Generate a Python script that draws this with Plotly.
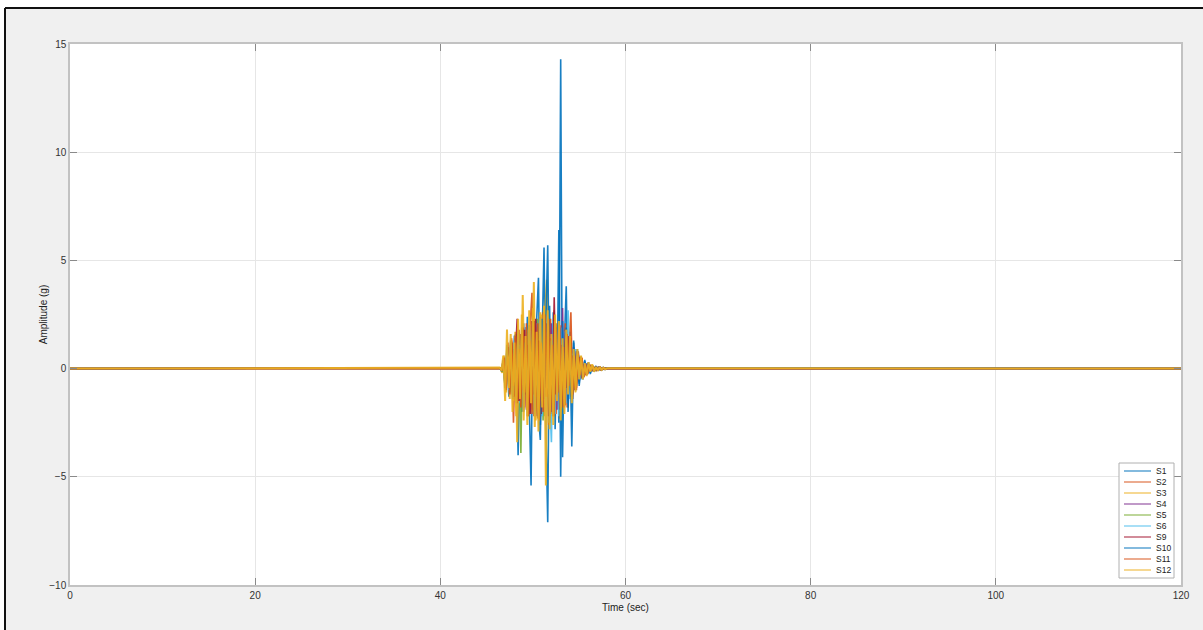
import plotly.graph_objects as go

# ---------------- data ----------------
t_start = 0.0
t_end = 120.0
# two interleaved sampling grids (seconds) for the strong-motion window
t_burst_a = [46.4, 46.6, 46.8, 47.0, 47.2, 47.4, 47.6, 47.8, 48.0, 48.2,
             48.4, 48.6, 48.8, 49.0, 49.2, 49.4, 49.6, 49.8, 50.0, 50.2,
             50.4, 50.6, 50.8, 51.0, 51.2, 51.4, 51.6, 51.8, 52.0, 52.2,
             52.4, 52.6, 52.8, 53.0, 53.2, 53.4, 53.6, 53.8, 54.0, 54.2,
             54.4, 54.6, 54.8, 55.0, 55.2, 55.4, 55.6, 55.8, 56.0, 56.2,
             56.4, 56.6, 56.8, 57.0, 57.2, 57.4, 57.6, 57.8, 58.0]
t_burst_b = [46.5, 46.7, 46.9, 47.1, 47.3, 47.5, 47.7, 47.9, 48.1, 48.3,
             48.5, 48.7, 48.9, 49.1, 49.3, 49.5, 49.7, 49.9, 50.1, 50.3,
             50.5, 50.7, 50.9, 51.1, 51.3, 51.5, 51.7, 51.9, 52.1, 52.3,
             52.5, 52.7, 52.9, 53.1, 53.3, 53.5, 53.7, 53.9, 54.1, 54.3,
             54.5, 54.7, 54.9, 55.1, 55.3, 55.5, 55.7, 55.9, 56.1, 56.3,
             56.5, 56.7, 56.9, 57.1, 57.3, 57.5, 57.7, 57.9, 58.1]

series_names = ["S1", "S2", "S3", "S4", "S5", "S6", "S9", "S10", "S11", "S12"]

S1 = [0.04, -0.08, 0.3, -0.9, 0.6, -1.3, 1.2, -0.7, 1.5, 1.6,
      -4.0, 0.9, -2.0, 2.1, -1.2, 2.4, -1.9, -5.4, 2.6, -1.3,
      2.2, 4.2, -2.6, 1.5, 5.6, -2.7, -7.1, 2.9, -1.4, 2.6,
      -2.8, 1.7, -2.5, 14.3, -4.1, 1.2, 3.8, -2.0, 1.7, -0.9,
      1.2, -1.0, 0.5, -0.7, 0.55, -0.3, 0.35, -0.3, 0.15, -0.2,
      0.16, -0.1, 0.1, -0.08, 0.06, -0.05, 0.04, -0.03, 0.02]
S2 = [0.03, -0.1, 0.5, -1.0, 1.2, -0.6, 1.4, -2.5, 0.8, -1.5,
      1.8, -1.0, 2.0, -1.8, 1.2, -2.1, 2.0, 3.5, -2.2, 1.4,
      -2.3, 2.1, -1.3, 2.6, -2.2, 1.5, -2.6, 2.3, -1.2, 2.7,
      -2.1, 1.3, -2.3, 2.0, -1.1, 2.1, -1.8, 0.9, 2.6, -1.4,
      0.7, -1.0, 0.8, -0.4, 0.5, -0.4, 0.2, -0.25, 0.2, -0.1,
      0.12, -0.1, 0.08, -0.06, 0.05, -0.04, 0.03, -0.02, 0.01]
S3 = [0.02, -0.2, 0.6, -1.1, 1.0, -1.4, 0.7, -1.5, 1.7, -3.4,
      1.1, -1.7, 3.4, -1.1, 1.8, -2.2, 1.3, -2.0, 4.0, -2.4,
      1.4, -2.1, 2.5, -1.3, 2.4, 4.1, -2.5, 1.3, -2.2, 2.0,
      -1.4, 2.1, -2.0, 1.1, -1.8, 1.7, -0.9, 1.4, -1.2, 0.6,
      -0.9, 0.7, -0.4, 0.5, -0.4, 0.2, -0.25, 0.2, -0.1, 0.12,
      -0.1, 0.08, -0.06, 0.05, -0.04, 0.03, -0.02, 0.02, -0.01]
S4 = [0.02, -0.1, 0.4, -0.8, 0.9, -0.5, 1.1, -1.2, 0.7, -1.4,
      1.5, -1.3, 0.9, -1.6, 1.9, -1.0, 2.0, -1.9, 1.2, -2.2,
      2.0, -1.3, 2.4, -2.1, 1.3, -2.0, 2.3, -1.4, 2.1, -2.2,
      1.2, -1.9, 2.2, -1.1, 2.8, -1.8, 1.0, -1.5, 1.3, -0.7,
      1.0, -0.9, 0.4, -0.6, 0.5, -0.25, 0.3, -0.25, 0.12, -0.15,
      0.12, -0.06, 0.08, -0.06, 0.05, -0.04, 0.03, -0.02, 0.01]
S5 = [0.02, -0.15, 0.4, -0.9, 0.6, -1.1, 1.2, -0.8, 1.4, -1.5,
      0.9, -3.9, 1.8, -1.0, 1.9, -2.0, 1.2, -1.9, 2.2, -1.2,
      2.3, -2.2, 1.3, -2.4, 2.2, -1.3, 2.0, -2.1, 1.2, -2.0,
      1.9, -1.2, 1.8, -1.9, 1.0, -1.6, 1.5, -0.8, 1.2, -1.1,
      0.5, -0.8, 0.6, -0.3, 0.4, -0.35, 0.2, -0.25, 0.2, -0.1,
      0.12, -0.1, 0.05, -0.06, 0.05, -0.04, 0.03, -0.02, 0.01]
S6 = [0.03, -0.1, 0.3, -0.7, 0.9, -1.0, 0.6, -1.2, 1.3, -0.8,
      1.5, -1.6, 1.0, -1.8, 1.9, -1.1, 1.8, -2.1, 1.2, -2.2,
      2.1, -1.2, 2.3, -2.2, 1.3, -2.4, 2.1, -1.3, -3.4, 2.2,
      -2.1, 1.2, -2.2, 1.9, -1.0, 1.7, -1.6, 2.7, -1.4, 0.7,
      -1.0, 0.9, -0.4, 0.6, -0.5, 0.25, -0.3, 0.25, -0.12, 0.15,
      -0.12, 0.06, -0.08, 0.06, -0.05, 0.04, -0.03, 0.02, -0.01]
S9 = [0.02, -0.1, 0.5, -0.9, 1.0, -0.6, 1.2, -1.3, 0.8, 2.3,
      -1.5, 1.6, -1.0, 1.8, -1.9, 1.1, -2.1, 2.2, -1.2, 2.3,
      -2.2, 1.3, -2.1, 2.2, -1.3, 2.1, -2.2, 1.4, -2.0, 3.3,
      -1.2, 2.0, -1.9, 1.1, -1.8, 1.7, -0.9, 1.5, -1.3, 0.6,
      -1.0, 0.8, -0.4, 0.55, -0.45, 0.2, -0.3, 0.25, -0.1, 0.15,
      -0.12, 0.06, -0.08, 0.06, -0.05, 0.04, -0.03, 0.02, -0.01]
S10 = [0.03, -0.1, 0.4, -0.9, 1.1, -0.7, 1.3, -1.4, 0.9, -1.6,
       1.7, -1.1, 1.9, -2.0, 1.2, -2.2, 2.0, -1.3, 2.2, -2.1,
       1.4, -2.2, -3.3, 2.3, -1.4, 2.2, 5.7, -2.5, 1.3, -2.2,
       2.1, -1.3, 6.4, -5.0, 2.2, -1.1, 1.9, -1.8, 1.0, -3.6,
       1.3, -0.6, 0.9, -0.8, 0.35, -0.5, 0.4, -0.2, 0.3, -0.25,
       0.12, -0.15, 0.12, -0.1, 0.08, -0.06, 0.05, -0.04, 0.03]
S11 = [0.02, -0.1, 0.5, -1.0, 0.6, -1.2, 1.3, -0.8, 1.5, -1.6,
       0.9, -1.8, 1.9, -1.1, 2.1, -2.2, 1.3, -2.1, 2.2, -1.3,
       2.1, -2.4, 1.2, -2.0, 2.5, -1.3, 2.3, -2.1, 1.1, -2.2,
       2.1, -1.1, 2.0, -1.8, 1.0, -1.7, 1.6, -0.8, 1.4, -1.2,
       0.6, -0.9, 0.7, -0.3, 0.5, -0.4, 0.2, -0.25, 0.2, -0.1,
       0.12, -0.1, 0.05, -0.06, 0.05, -0.04, 0.03, -0.02, 0.01]
S12 = [0.05, -0.1, 0.6, -1.5, 1.8, -0.9, 1.6, -2.0, 1.2, -2.2,
       2.3, -1.4, 2.5, -2.4, 1.5, -2.6, 2.7, -1.6, 2.8, -2.7,
       1.7, -2.9, 2.6, -1.8, 2.9, -5.4, 2.7, -2.8, 1.6, -2.6,
       2.5, -1.5, 2.2, -2.4, 1.4, -2.1, 1.8, -1.2, 1.5, -1.6,
       0.9, -1.1, 0.9, -0.5, 0.6, -0.5, 0.25, -0.35, 0.3, -0.15,
       0.2, -0.15, 0.08, -0.1, 0.08, -0.06, 0.04, -0.03, 0.02]

series_values = [S1, S2, S3, S4, S5, S6, S9, S10, S11, S12]
series_grids = ["a", "b", "b", "a", "b", "a", "b", "a", "b", "a"]
series_colors = ["#0072BD", "#D95319", "#EDB120", "#7E2F8E", "#77AC30",
                 "#4DBEEE", "#A2142F", "#0072BD", "#D95319", "#EDB120"]
series_widths = [1.6, 1.6, 2.0, 1.6, 1.6, 1.6, 1.6, 1.6, 1.6, 2.0]

x_ticks = [0, 20, 40, 60, 80, 100, 120]
y_ticks = [-10, -5, 0, 5, 10, 15]

# ---------------- layout geometry ----------------
W, H = 1203, 630
ML, MR, MT, MB = 70, 22, 44, 45
PW = W - ML - MR
PH = H - MT - MB


def xp(px):
    return (px - ML) / PW


def yp(py):
    return (H - MB - py) / PH


FONT = "Liberation Sans, Arial, Helvetica, sans-serif"
grids = {"a": t_burst_a, "b": t_burst_b}

fig = go.Figure()
for name, vals, g, col, lw in zip(series_names, series_values, series_grids,
                                  series_colors, series_widths):
    fig.add_trace(go.Scatter(
        x=[t_start] + grids[g] + [t_end],
        y=[0.0] + vals + [0.0],
        mode="lines", name=name,
        line=dict(color=col, width=lw),
        opacity=0.9,
        showlegend=False,
    ))

axis_common = dict(
    showgrid=True, gridcolor="#e6e6e6", gridwidth=1,
    zeroline=False,
    showline=True, linecolor="#c2c2c2", linewidth=1.5, mirror="allticks",
    ticks="inside", ticklen=7, tickcolor="#8a8a8a", tickwidth=1,
    tickfont=dict(family=FONT, size=10, color="#333333"),
)

fig.update_xaxes(range=[0, 120], tickvals=x_ticks,
                 title=dict(text="Time (sec)", standoff=4,
                            font=dict(family=FONT, size=10, color="#222222")),
                 **axis_common)
fig.update_yaxes(range=[-10, 15], tickvals=y_ticks,
                 title=dict(text="Amplitude (g)", standoff=0,
                            font=dict(family=FONT, size=10, color="#222222")),
                 **axis_common)

shapes = []
annotations = []
# white area outside the black frame
shapes.append(dict(type="rect", xref="paper", yref="paper",
                   x0=xp(-10), x1=xp(W + 10), y0=yp(8), y1=yp(-10),
                   fillcolor="white", line=dict(width=0), layer="below"))
shapes.append(dict(type="rect", xref="paper", yref="paper",
                   x0=xp(-10), x1=xp(5), y0=yp(H + 10), y1=yp(-10),
                   fillcolor="white", line=dict(width=0), layer="below"))
# black frame lines
shapes.append(dict(type="line", xref="paper", yref="paper",
                   x0=xp(5), x1=xp(W + 10), y0=yp(8), y1=yp(8),
                   line=dict(color="#111111", width=2)))
shapes.append(dict(type="line", xref="paper", yref="paper",
                   x0=xp(5), x1=xp(5), y0=yp(8), y1=yp(H + 10),
                   line=dict(color="#111111", width=2)))

# compact MATLAB-style legend
LX0, LX1, LY0, LY1 = 1119, 1174, 463, 578
shapes.append(dict(type="rect", xref="paper", yref="paper",
                   x0=xp(LX0), x1=xp(LX1), y0=yp(LY1), y1=yp(LY0),
                   fillcolor="white", line=dict(color="#b0b0b0", width=1),
                   layer="above"))
for k, (name, col) in enumerate(zip(series_names, series_colors)):
    yy = 471 + 11 * k
    shapes.append(dict(type="line", xref="paper", yref="paper",
                       x0=xp(1124), x1=xp(1151), y0=yp(yy), y1=yp(yy),
                       line=dict(color=col, width=1.3), opacity=0.75,
                       layer="above"))
    annotations.append(dict(xref="paper", yref="paper", x=xp(1154), y=yp(yy),
                            text=name, showarrow=False, xanchor="left",
                            yanchor="middle",
                            font=dict(family=FONT, size=8.5, color="#222222")))

fig.update_layout(
    width=W, height=H,
    margin=dict(l=ML, r=MR, t=MT, b=MB),
    paper_bgcolor="#f0f0f0", plot_bgcolor="white",
    shapes=shapes, annotations=annotations,
    showlegend=False,
)

fig.write_html("out.html", config={"displayModeBar": False},
               post_script="document.body.style.margin='0';document.body.style.padding='0';")
